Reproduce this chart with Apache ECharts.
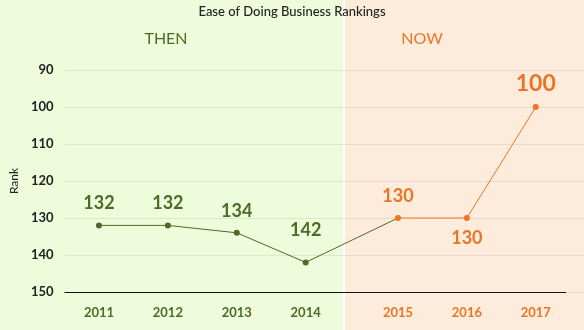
<!DOCTYPE html>
<html>
<head>
<meta charset="utf-8">
<style>
  html, body { margin: 0; padding: 0; background: #ffffff; }
  #chart { width: 584px; height: 330px; }
</style>
<script src="https://cdn.jsdelivr.net/npm/echarts@6/dist/echarts.min.js"></script>
</head>
<body>
<div id="chart"></div>
<script>
// Ease of Doing Business rank by year
const years = [2011, 2012, 2013, 2014, 2015, 2016, 2017];
const ranks = [132, 132, 134, 142, 130, 130, 100];
const thenCount = 4;            // 2011–2014 belong to the "THEN" panel
const rankTicks = [90, 100, 110, 120, 130, 140, 150];

const GREEN = '#4b6b26';
const ORANGE = '#ec7427';
const FONT = 'Lato';

// "Then" line runs on to the first "now" point so the two periods join
const thenData = years.slice(0, thenCount + 1).map((y, i) => {
  const item = { value: [y, ranks[i]] };
  if (i === thenCount) {
    item.symbolSize = 0;
    item.label = { show: false };
  }
  if (i === 3) item.label = { distance: 20 };
  return item;
});

const nowData = years.slice(thenCount).map((y, j) => {
  const i = thenCount + j;
  const item = { value: [y, ranks[i]] };
  if (j === 1) item.label = { position: 'bottom', distance: 8 };
  if (j === 2) item.label = { fontSize: 23, distance: 9 };
  return item;
});

const X_MIN = 2010.5;
const X_MAX = 2017.7;

const chart = echarts.init(document.getElementById('chart'), null, { renderer: 'canvas' });

chart.setOption({
  animation: false,
  textStyle: { fontFamily: FONT },
  graphic: [
    { type: 'rect', z: -10, silent: true, shape: { x: 0, y: 0, width: 343, height: 330 }, style: { fill: '#eefcdb' } },
    { type: 'rect', z: -10, silent: true, shape: { x: 345, y: 0, width: 239, height: 330 }, style: { fill: '#fdecdc' } },
    { type: 'text', left: 'center', top: 5, style: { text: 'Ease of Doing Business Rankings', fill: '#222', font: '500 13px Lato' } },
    { type: 'text', x: 166, y: 39, style: { text: 'THEN', fill: GREEN, font: '16px Lato', align: 'center', verticalAlign: 'middle' } },
    { type: 'text', x: 422, y: 39, style: { text: 'NOW', fill: ORANGE, font: '16px Lato', align: 'center', verticalAlign: 'middle' } }
  ],
  grid: { left: 53, right: 0, top: 70, bottom: 38, containLabel: false },
  xAxis: {
    type: 'value',
    min: X_MIN,
    max: X_MAX,
    breaks: [{ start: 2014, end: 2015, gap: 1.34 }],
    breakArea: { show: false },
    axisLine: { show: false },
    axisTick: { show: false },
    splitLine: { show: false },
    axisLabel: {
      customValues: years,
      margin: 14,
      formatter: v => (v <= years[thenCount - 1] ? '{t|' + v + '}' : '{n|' + v + '}'),
      rich: {
        t: { color: GREEN, fontWeight: 'bold', fontSize: 13, fontFamily: FONT },
        n: { color: ORANGE, fontWeight: 'bold', fontSize: 13, fontFamily: FONT }
      }
    }
  },
  yAxis: {
    type: 'value',
    inverse: true,
    min: 90,
    max: 150,
    interval: 10,
    name: 'Rank',
    nameLocation: 'middle',
    nameGap: 36,
    nameTextStyle: { color: '#222', fontSize: 12, fontFamily: FONT },
    axisLine: { show: false },
    axisTick: { show: false },
    axisLabel: {
      margin: 11,
      color: '#222',
      fontWeight: 'bold',
      fontSize: 13,
      fontFamily: FONT,
      formatter: v => (rankTicks.includes(v) ? String(v) : '')
    },
    splitLine: { show: true, lineStyle: { color: 'rgba(0,0,0,0.08)', width: 1 } }
  },
  series: [
    {
      name: 'Then',
      type: 'line',
      data: thenData,
      symbol: 'circle',
      symbolSize: 6,
      lineStyle: { color: GREEN, width: 1 },
      itemStyle: { color: GREEN },
      label: {
        show: true,
        position: 'top',
        distance: 10,
        color: GREEN,
        fontWeight: 'bold',
        fontSize: 18,
        fontFamily: FONT,
        formatter: p => String(p.value[1])
      },
      // baseline along rank 150, stopping short of the right edge
      markLine: {
        silent: true,
        symbol: 'none',
        label: { show: false },
        lineStyle: { color: '#111', width: 1, type: 'solid' },
        data: [[{ coord: [X_MIN, 150] }, { coord: [2017.44, 150] }]]
      },
      z: 3
    },
    {
      name: 'Now',
      type: 'line',
      data: nowData,
      symbol: 'circle',
      symbolSize: 6,
      lineStyle: { color: ORANGE, width: 1 },
      itemStyle: { color: ORANGE },
      label: {
        show: true,
        position: 'top',
        distance: 10,
        color: ORANGE,
        fontWeight: 'bold',
        fontSize: 18,
        fontFamily: FONT,
        formatter: p => String(p.value[1])
      },
      z: 4
    }
  ]
});
</script>
</body>
</html>
